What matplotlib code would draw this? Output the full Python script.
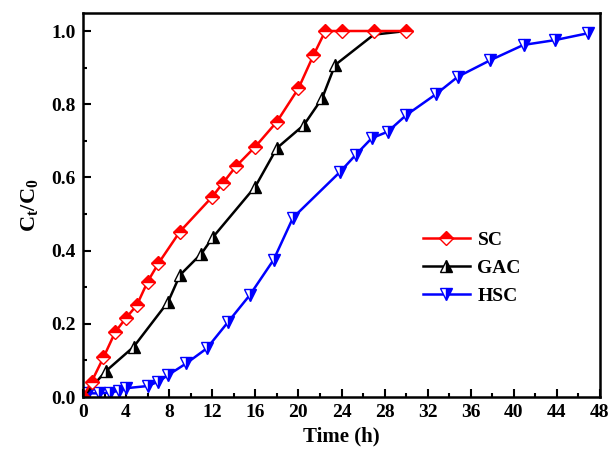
import numpy as np
import matplotlib
matplotlib.use("Agg")
import matplotlib.pyplot as plt
from matplotlib.ticker import MultipleLocator

plt.rcParams["font.family"] = ["Liberation Serif", "DejaVu Serif"]
plt.rcParams["font.weight"] = "bold"
plt.rcParams["mathtext.fontset"] = "custom"
plt.rcParams["mathtext.rm"] = "Liberation Serif:bold"
plt.rcParams["mathtext.bf"] = "Liberation Serif:bold"
plt.rcParams["mathtext.it"] = "Liberation Serif:bold"

# data
sc_t = [0, 0.8, 1.9, 3, 4, 5, 6, 7, 9, 12, 13, 14.2, 16, 18, 20, 21.4, 22.5, 24, 27, 30]
sc_c = [0, 0.042, 0.108, 0.178, 0.216, 0.251, 0.315, 0.365, 0.452, 0.547, 0.585, 0.63,
        0.684, 0.752, 0.843, 0.934, 1.0, 1.0, 1.0, 1.0]

gac_t = [0, 2.1, 4.7, 7.9, 9, 11, 12.1, 16, 18, 20.5, 22.2, 23.4, 27, 30]
gac_c = [0, 0.07, 0.137, 0.26, 0.333, 0.392, 0.438, 0.575, 0.68, 0.743, 0.816, 0.907, 0.99, 1.0]

hsc_t = [0, 0.5, 1.5, 2.5, 3.3, 4, 6, 7, 7.9, 9.6, 11.5, 13.5, 15.5, 17.7, 19.5, 23.9, 25.3,
         26.8, 28.3, 30, 32.8, 34.8, 37.8, 40.9, 43.8, 46.9]
hsc_c = [0, 0.01, 0.01, 0.012, 0.017, 0.024, 0.03, 0.042, 0.06, 0.092, 0.133, 0.206, 0.279,
         0.375, 0.49, 0.616, 0.661, 0.707, 0.725, 0.77, 0.828, 0.875, 0.92, 0.962, 0.975, 0.994]

fig = plt.figure(figsize=(6.12, 4.58), dpi=100)
ax = fig.add_axes([83 / 612, 1 - 397 / 458, (600 - 83) / 612, (397 - 12.7) / 458])

l_hsc, = ax.plot(hsc_t, hsc_c, color="blue", lw=1.8, marker="v", ms=8, fillstyle="right",
                 markerfacecolor="blue", markerfacecoloralt="white", markeredgecolor="blue",
                 markeredgewidth=1.0)
# the last two GAC points sit under the SC markers in the reference
l_gac, = ax.plot(gac_t, gac_c, color="black", lw=1.8, marker="^", ms=8, fillstyle="right",
                 markerfacecolor="black", markerfacecoloralt="white", markeredgecolor="black",
                 markeredgewidth=1.0, markevery=list(range(len(gac_t) - 2)))
l_sc, = ax.plot(sc_t, sc_c, color="red", lw=1.8, marker="D", ms=7.5, fillstyle="top",
                markerfacecolor="red", markerfacecoloralt="white", markeredgecolor="red",
                markeredgewidth=1.0)

ax.set_xlim(0, 48)
ax.set_ylim(0, 1.05)
ax.xaxis.set_major_locator(MultipleLocator(4))
ax.xaxis.set_minor_locator(MultipleLocator(2))
ax.yaxis.set_major_locator(MultipleLocator(0.2))
ax.yaxis.set_minor_locator(MultipleLocator(0.1))
ax.set_yticks(np.arange(0, 1.01, 0.2))
ax.set_yticklabels(["0.0", "0.2", "0.4", "0.6", "0.8", "1.0"])
ax.tick_params(which="both", direction="in", top=False, right=False, width=1.5)
ax.tick_params(which="major", length=6, labelsize=14, pad=5)
ax.tick_params(which="minor", length=3)
for s in ax.spines.values():
    s.set_linewidth(1.8)

ax.set_xlabel("Time (h)", fontsize=15, fontweight="bold", labelpad=4)
ax.set_ylabel(r"$\mathbf{C_t/C_0}$", fontsize=16, labelpad=8)

fig.legend([l_sc, l_gac, l_hsc], ["SC", "GAC", "HSC"], loc="center left",
           bbox_to_anchor=(423 / 612, 1 - 268 / 458), bbox_transform=fig.transFigure,
           frameon=False, fontsize=14, handlelength=2.4, handletextpad=0.4,
           borderpad=0, borderaxespad=0, labelspacing=0.55)

fig.savefig("out.png", dpi=100)
